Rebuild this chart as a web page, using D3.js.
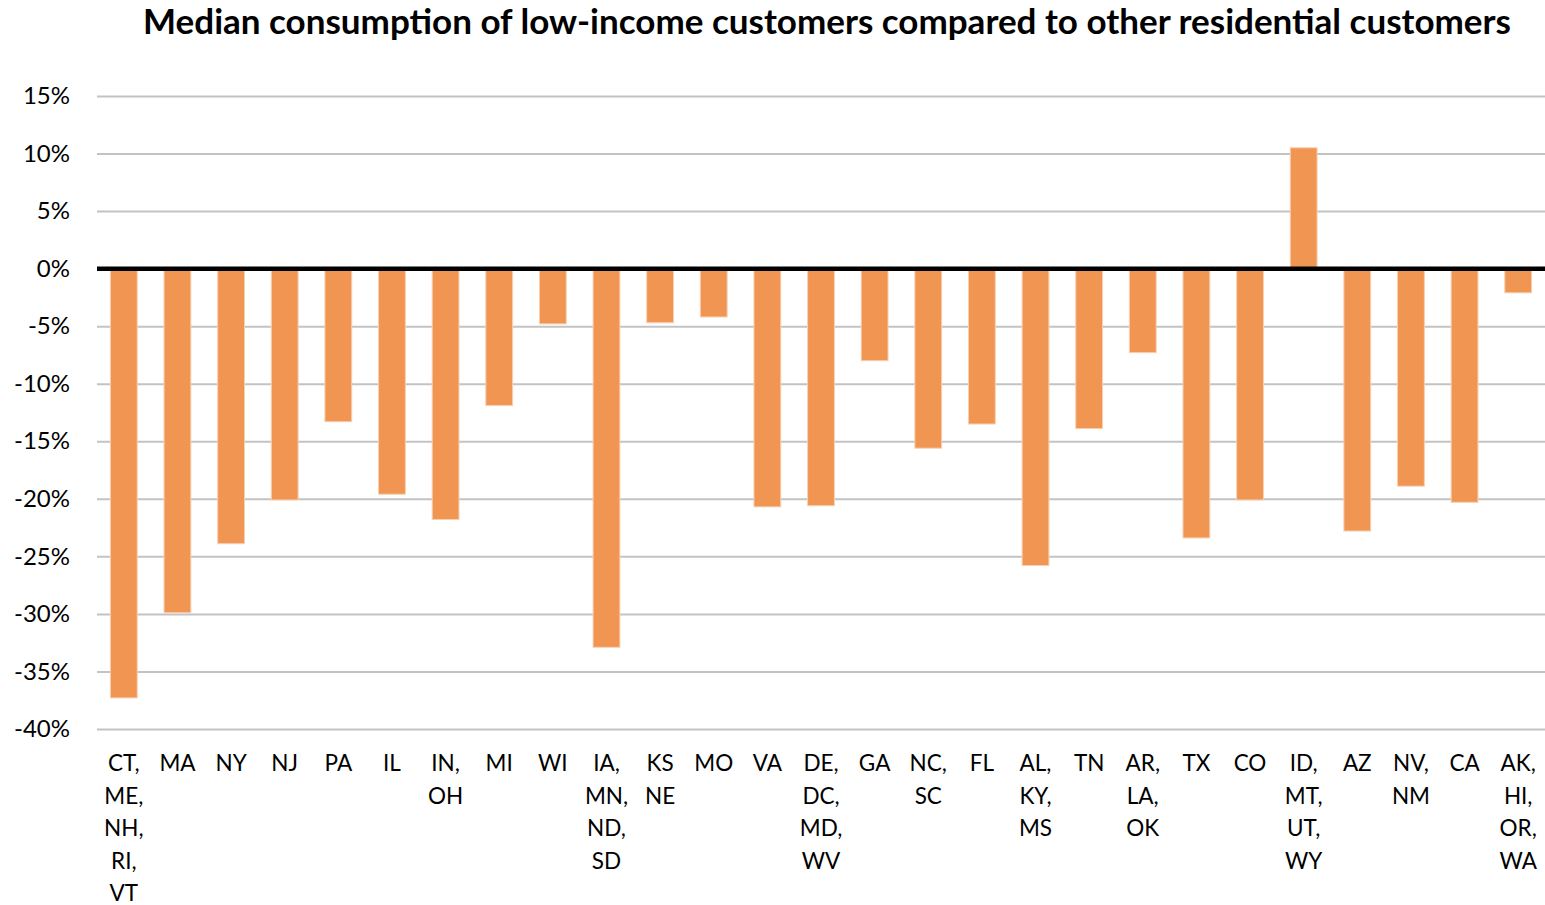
<!DOCTYPE html>
<html>
<head>
<meta charset="utf-8">
<script src="https://cdn.jsdelivr.net/npm/d3@7"></script>
<style>
  html, body { margin: 0; padding: 0; background: #fff; }
  svg { display: block; font-family: Lato, "Open Sans", sans-serif; }
</style>
</head>
<body>
<svg id="chart" width="1545" height="905"></svg>
<script>
// Regional groups (multi-state groups wrap one state per line)
const categories = [
  ["CT,", "ME,", "NH,", "RI,", "VT"], ["MA"], ["NY"], ["NJ"], ["PA"], ["IL"],
  ["IN,", "OH"], ["MI"], ["WI"], ["IA,", "MN,", "ND,", "SD"], ["KS", "NE"], ["MO"],
  ["VA"], ["DE,", "DC,", "MD,", "WV"], ["GA"], ["NC,", "SC"], ["FL"],
  ["AL,", "KY,", "MS"], ["TN"], ["AR,", "LA,", "OK"], ["TX"], ["CO"],
  ["ID,", "MT,", "UT,", "WY"], ["AZ"], ["NV,", "NM"], ["CA"], ["AK,", "HI,", "OR,", "WA"]
];

// Median consumption difference vs. other residential customers (%)
const values = [
  -37.3, -29.9, -23.9, -20.1, -13.3, -19.6,
  -21.8, -11.9, -4.8, -32.9, -4.7, -4.2,
  -20.7, -20.6, -8.0, -15.6, -13.5,
  -25.8, -13.9, -7.3, -23.4, -20.1,
  10.5, -22.8, -18.9, -20.3, -2.1
];

const yTicks = [15, 10, 5, 0, -5, -10, -15, -20, -25, -30, -35, -40];
const title = "Median consumption of low-income customers compared to other residential customers";

const svg = d3.select("#chart");
const margin = { left: 97, right: 0, top: 96, bottom: 176 };
const width = 1545, height = 905;

const x = d3.scaleBand()
  .domain(d3.range(categories.length))
  .range([margin.left, width - margin.right])
  .paddingInner(0.5)
  .paddingOuter(0.25);

const y = d3.scaleLinear()
  .domain([-40, 15])
  .range([729, 96]);

// Title
svg.append("text")
  .attr("x", 827)
  .attr("y", 34)
  .attr("text-anchor", "middle")
  .attr("font-size", 35)
  .attr("font-weight", 700)
  .attr("fill", "#000")
  .text(title);

// Gridlines and tick labels
const yAxis = d3.axisLeft(y)
  .tickValues(yTicks)
  .tickSize(-(width - margin.left - margin.right))
  .tickFormat(d => d + "%");

const gy = svg.append("g")
  .attr("transform", `translate(${margin.left},0)`)
  .call(yAxis);
gy.select(".domain").remove();
gy.selectAll(".tick line")
  .attr("stroke", "#c3c3c3")
  .attr("stroke-width", 2);
gy.selectAll(".tick text")
  .attr("x", -27)
  .attr("font-size", 24)
  .attr("font-family", "Lato, 'Open Sans', sans-serif")
  .attr("fill", "#000");

// Bars
svg.append("g")
  .selectAll("rect")
  .data(values)
  .join("rect")
  .attr("x", (d, i) => x(i))
  .attr("width", x.bandwidth())
  .attr("y", d => y(Math.max(0, d)))
  .attr("height", d => Math.abs(y(d) - y(0)))
  .attr("fill", "#f09552")
  .attr("stroke", "#f8d0b2")
  .attr("stroke-width", 1);

// Zero baseline
svg.append("line")
  .attr("x1", margin.left)
  .attr("x2", width - margin.right)
  .attr("y1", y(0))
  .attr("y2", y(0))
  .attr("stroke", "#000")
  .attr("stroke-width", 4.5);

// Category labels
const labels = svg.append("g")
  .attr("font-size", 22.5)
  .attr("fill", "#000")
  .attr("text-anchor", "middle");

categories.forEach((lines, i) => {
  const t = labels.append("text")
    .attr("x", x(i) + x.bandwidth() / 2)
    .attr("y", 771);
  lines.forEach((ln, j) => {
    t.append("tspan")
      .attr("x", x(i) + x.bandwidth() / 2)
      .attr("dy", j === 0 ? 0 : 32.5)
      .text(ln);
  });
});
</script>
</body>
</html>
